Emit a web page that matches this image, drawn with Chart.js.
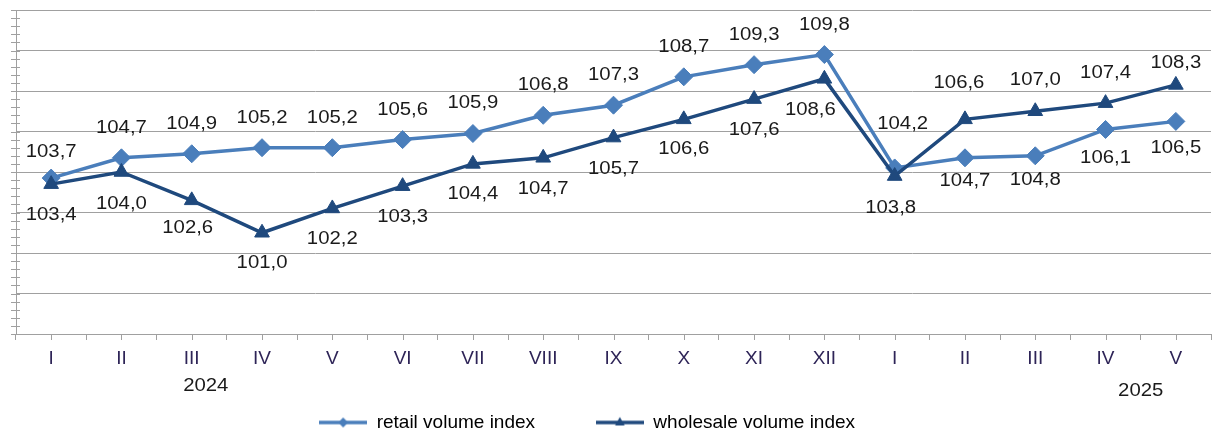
<!DOCTYPE html>
<html>
<head>
<meta charset="utf-8">
<script src="https://cdn.jsdelivr.net/npm/chart.js@4.4.1/dist/chart.umd.min.js"></script>
<style>
  html, body { margin: 0; padding: 0; background: #fff; }
  #wrap { width: 1232px; height: 435px; }
</style>
</head>
<body>
<div id="wrap"><canvas id="chart" width="1232" height="435"></canvas></div>
<script>
const months = ['I', 'II', 'III', 'IV', 'V', 'VI', 'VII', 'VIII', 'IX', 'X', 'XI', 'XII', 'I', 'II', 'III', 'IV', 'V'];
const retail = [103.7, 104.7, 104.9, 105.2, 105.2, 105.6, 105.9, 106.8, 107.3, 108.7, 109.3, 109.8, 104.2, 104.7, 104.8, 106.1, 106.5];
const wholesale = [103.4, 104.0, 102.6, 101.0, 102.2, 103.3, 104.4, 104.7, 105.7, 106.6, 107.6, 108.6, 103.8, 106.6, 107.0, 107.4, 108.3];
const years = ['2024', '2025'];
const yearAt = [2.2, 15.5];

// where each value label sits relative to its point (px)
const retailDy = [-26, -30, -30, -30, -30, -30, -30, -30, -30, -30, -30, -30, -44, 23, 24, 29, 27];
const retailDx = [0, 0, 0, 0, 0, 0, 0, 0, 0, 0, 0, 0, 8, 0, 0, 0, 0];
const wholesaleDy = [31, 32, 28, 30, 31, 31, 30, 31, 31, 30, 31, 31, 32, -36, -31, -30, -22];
const wholesaleDx = [0, 0, -4, 0, 0, 0, 0, 0, 0, 0, 0, -14, -4, -6, 0, 0, 0];

const RETAIL = '#4a7ebb';
const WHOLESALE = '#1f497d';
const GRID = '#a0a0a0';
const FONT = '"Liberation Sans", Arial, sans-serif';

function legendIcon(color, shape, r) {
    let c = document.createElement('canvas');
    c.width = 48;
    c.height = 14;
    let g = c.getContext('2d');
    g.strokeStyle = color;
    g.lineWidth = 3.5;
    g.beginPath();
    g.moveTo(0, 7);
    g.lineTo(48, 7);
    g.stroke();
    g.fillStyle = color;
    g.beginPath();
    if (shape === 'diamond') {
        g.moveTo(24, 7 - r); g.lineTo(24 + r, 7); g.lineTo(24, 7 + r); g.lineTo(24 - r, 7);
    } else {
        g.moveTo(24, 7 - r); g.lineTo(24 + r * 0.87, 7 + r * 0.55); g.lineTo(24 - r * 0.87, 7 + r * 0.55);
    }
    g.closePath();
    g.fill();
    return c;
}

const icons = [legendIcon(RETAIL, 'diamond', 5), legendIcon(WHOLESALE, 'triangle', 5.5)];
const legendPad = ['          ', '          '];

// value labels above / below points
const valueLabels = {
    id: 'valueLabels',
    afterDatasetsDraw: (chart) => {
        let ctx = chart.ctx;
        let dys = [retailDy, wholesaleDy];
        let dxs = [retailDx, wholesaleDx];
        ctx.save();
        ctx.font = '18px ' + FONT;
        ctx.fillStyle = '#1a1a1a';
        ctx.textAlign = 'center';
        ctx.textBaseline = 'middle';
        chart.data.datasets.forEach((ds, i) => {
            chart.getDatasetMeta(i).data.forEach((pt, j) => {
                ctx.save();
                ctx.translate(pt.x + dxs[i][j], pt.y + dys[i][j]);
                ctx.scale(1.13, 1);
                ctx.fillText(ds.data[j].toFixed(1).replace('.', ','), 0, 0);
                ctx.restore();
            });
        });
        ctx.restore();
    }
};

// minor ticks crossing the y axis, centre ticks on the x axis, year captions
const axisExtras = {
    id: 'axisExtras',
    afterDraw: (chart) => {
        let ctx = chart.ctx;
        let x = chart.scales.x;
        let y = chart.scales.y;
        ctx.save();
        ctx.strokeStyle = GRID;
        ctx.lineWidth = 1;
        ctx.beginPath();
        y.ticks.forEach(t => {
            let py = Math.round(y.getPixelForValue(t.value)) + 0.5;
            ctx.moveTo(y.right - 5, py);
            ctx.lineTo(y.right + 4, py);
        });
        months.forEach((m, i) => {
            let px = Math.round(x.getPixelForValue(i)) + 0.5;
            ctx.moveTo(px, x.top);
            ctx.lineTo(px, x.top + 6);
        });
        ctx.stroke();

        ctx.font = '18px ' + FONT;
        ctx.fillStyle = '#1a1a1a';
        ctx.textAlign = 'center';
        ctx.textBaseline = 'middle';
        years.forEach((yr, i) => {
            ctx.save();
            ctx.translate(x.getPixelForValue(yearAt[i]), x.top + 52 + i * 5);
            ctx.scale(1.13, 1);
            ctx.fillText(yr, 0, 0);
            ctx.restore();
        });
        ctx.restore();
    }
};

let ctx = document.getElementById('chart').getContext('2d');
let config = {
    type: 'line',
    data: {
        labels: months,
        datasets: [{
            label: 'retail volume index',
            data: retail,
            borderColor: RETAIL,
            backgroundColor: RETAIL,
            borderWidth: 3.5,
            pointStyle: 'rectRot',
            pointRadius: 9,
            pointBorderWidth: 1,
            tension: 0,
            fill: false,
            order: 2
        }, {
            label: 'wholesale volume index',
            data: wholesale,
            borderColor: WHOLESALE,
            backgroundColor: WHOLESALE,
            borderWidth: 3.5,
            pointStyle: 'triangle',
            pointRadius: 8.5,
            pointBorderWidth: 1,
            tension: 0,
            fill: false,
            order: 1
        }]
    },
    options: {
        responsive: false,
        animation: false,
        devicePixelRatio: 1,
        layout: {
            padding: {left: 16, right: 21, top: 8, bottom: -7}
        },
        scales: {
            x: {
                type: 'category',
                offset: true,
                grid: {
                    offset: true,
                    drawOnChartArea: false,
                    drawTicks: true,
                    tickLength: 6,
                    color: GRID
                },
                border: {display: true, color: GRID, width: 1},
                ticks: {
                    color: '#2e2457',
                    font: {family: FONT, size: 19},
                    padding: 7,
                    maxRotation: 0,
                    autoSkip: false
                },
                afterFit: (scale) => { scale.height = 71; }
            },
            y: {
                min: 96,
                max: 112,
                ticks: {stepSize: 0.4, display: false},
                grid: {
                    drawTicks: false,
                    color: (c) => {
                        let v = c.tick ? c.tick.value : 0;
                        return Math.abs(v / 2 - Math.round(v / 2)) < 1e-6 ? GRID : 'rgba(0,0,0,0)';
                    }
                },
                border: {display: true, color: GRID, width: 1}
            }
        },
        plugins: {
            legend: {
                position: 'bottom',
                labels: {
                    usePointStyle: true,
                    pointStyleWidth: 48,
                    padding: 8,
                    color: '#1a1a1a',
                    font: {family: FONT, size: 19},
                    generateLabels: (chart) => chart.data.datasets.map((ds, i) => ({
                        text: ds.label + legendPad[i],
                        fillStyle: ds.borderColor,
                        strokeStyle: ds.borderColor,
                        lineWidth: 0,
                        pointStyle: icons[i],
                        datasetIndex: i,
                        hidden: false
                    }))
                }
            },
            tooltip: {enabled: false}
        }
    },
    plugins: [valueLabels, axisExtras]
};

new Chart(ctx, config);
</script>
</body>
</html>
